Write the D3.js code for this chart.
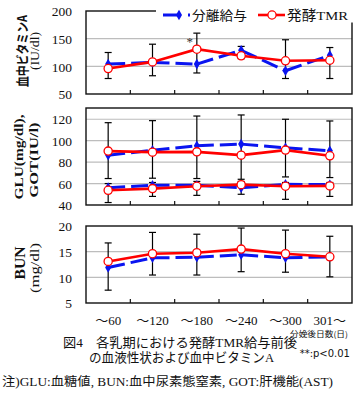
<!DOCTYPE html>
<html><head><meta charset="utf-8">
<script src="https://cdn.jsdelivr.net/npm/d3@7"></script>
<style>body{margin:0;background:#fff}svg{display:block}</style>
</head><body><div id="chart"></div>
<script>
// ---- data ----
const categories = ["～60","～120","～180","～240","～300","301～"];
const seriesNames = ["分離給与","発酵TMR"];
// Vitamin A (IU/dl)
const vitA_sep = [104,107,104,129,92,120];
const vitA_tmr = [96,108,131,119,110,111];
const vitA_errHi = [125,140,160,136,148,134];
const vitA_errLo = [78,83,88,114,78,78];
const vitA_ticks = [50,100,150,200];
// GLU (mg/dl) and GOT (IU/l)
const glu_sep = [86.5,91,95.3,96.8,93.4,90.6];
const glu_tmr = [90.3,89.3,89.6,86.5,91.2,85.9];
const got_sep = [56.2,58.4,58.4,56,59.3,59];
const got_tmr = [53.7,55.3,57.5,59,57.5,57.8];
const glu_errHi = [116.8,118.7,123,124,120,118.4];
const glu_errLo = [64.7,65,64.7,64,66.2,65.6];
const got_errHi = [60,61,62,62,61,61];
const got_errLo = [42.3,48,49,50,45.3,48];
const gg_ticks = [40,60,80,100,120];
// BUN (mg/dl)
const bun_sep = [11.9,13.8,13.9,14.4,13.8,14.0];
const bun_tmr = [13.1,14.6,14.8,15.5,14.6,14.0];
const bun_errHi = [16.7,18.75,18.4,19.6,19.2,18.0];
const bun_errLo = [7.5,10.45,10.45,11.1,11.0,10.1];
const bun_ticks = [5,10,15,20];

// ---- layout ----
const W = 358, H = 395;
const X0 = 86, X1 = 352;
const serif = "'Liberation Serif','Noto Sans CJK JP',serif";
const jp = "'Liberation Serif','Noto Sans CJK JP',sans-serif";
const BLUE = "#0a14f0", RED = "#ff0000";

const svg = d3.select("#chart").append("svg").attr("width", W).attr("height", H);
svg.append("rect").attr("width", W).attr("height", H).attr("fill", "#fff");

const x = d3.scaleBand().domain(categories).range([X0, X1]).padding(0);
const cx = c => x(c) + x.bandwidth() / 2;

const panels = [
  {top: 11, bottom: 94, domain: [50,200], ticks: vitA_ticks,
   lines: [[vitA_sep, vitA_tmr]], errs: [[vitA_errLo, vitA_errHi]]},
  {top: 108, bottom: 205, domain: [40,130.5], ticks: gg_ticks,
   lines: [[glu_sep, glu_tmr],[got_sep, got_tmr]], errs: [[glu_errLo, glu_errHi],[got_errLo, got_errHi]]},
  {top: 226, bottom: 303, domain: [5,20], ticks: bun_ticks,
   lines: [[bun_sep, bun_tmr]], errs: [[bun_errLo, bun_errHi]]}
];

panels.forEach((p, pi) => {
  const y = d3.scaleLinear().domain(p.domain).range([p.bottom, p.top]);
  p.y = y;
  const g = svg.append("g");
  // grid
  g.selectAll(".grid").data(p.ticks.filter(t => y(t) > p.top + 2 && y(t) < p.bottom - 2))
    .join("line").attr("x1", X0).attr("x2", X1)
    .attr("y1", d => y(d)).attr("y2", d => y(d))
    .attr("stroke", "#bdbdbd").attr("stroke-width", 1.2);
  // tick labels
  const ax = d3.axisLeft(y).tickValues(p.ticks).tickSize(0).tickPadding(0);
  const ag = g.append("g").attr("transform", `translate(72,0)`).call(ax);
  ag.select(".domain").remove();
  ag.selectAll("text").attr("font-family", serif).attr("font-size", 13.5)
    .attr("fill", "#111").attr("x", 0).attr("dy", "0.35em");
  // bottom ticks at category boundaries
  g.selectAll(".bt").data(categories.slice(1)).join("line")
    .attr("x1", d => x(d)).attr("x2", d => x(d))
    .attr("y1", p.bottom).attr("y2", p.bottom - 4)
    .attr("stroke", "#111").attr("stroke-width", 1.2);
  // error bars
  p.errs.forEach(([lo, hi]) => {
    categories.forEach((c, i) => {
      const xx = cx(c);
      g.append("line").attr("x1", xx).attr("x2", xx).attr("y1", y(lo[i])).attr("y2", y(hi[i]))
        .attr("stroke", "#000").attr("stroke-width", 1.2);
      [lo[i], hi[i]].forEach(v => g.append("line").attr("x1", xx - 3.5).attr("x2", xx + 3.5)
        .attr("y1", y(v)).attr("y2", y(v)).attr("stroke", "#000").attr("stroke-width", 1.2));
    });
  });
  // lines
  p.lines.forEach(([sep, tmr]) => {
    for (let i = 0; i < categories.length - 1; i++) {
      g.append("line").attr("x1", cx(categories[i])).attr("y1", y(sep[i]))
        .attr("x2", cx(categories[i+1])).attr("y2", y(sep[i+1]))
        .attr("stroke", BLUE).attr("stroke-width", 3).attr("stroke-dasharray", "17,6");
    }
    g.selectAll(null).data(sep).join("path")
      .attr("d", d3.symbol(d3.symbolDiamond, 32))
      .attr("transform", (d, i) => `translate(${cx(categories[i])},${y(d)})`)
      .attr("fill", BLUE);
    const line = d3.line().x((d, i) => cx(categories[i])).y(d => y(d));
    g.append("path").datum(tmr).attr("d", line).attr("fill", "none")
      .attr("stroke", RED).attr("stroke-width", 2.6);
  });
  p.lines.forEach(([sep, tmr]) => {
    g.selectAll(null).data(tmr).join("circle")
      .attr("cx", (d, i) => cx(categories[i])).attr("cy", d => y(d)).attr("r", 4.1)
      .attr("fill", "#fff").attr("stroke", RED).attr("stroke-width", 1.3);
  });
  // frame
  g.append("rect").attr("x", X0).attr("y", p.top).attr("width", X1 - X0).attr("height", p.bottom - p.top)
    .attr("fill", "none").attr("stroke", "#111").attr("stroke-width", 1.4);
});

// significance mark
svg.append("text").attr("x", cx(categories[2]) - 7).attr("y", panels[0].y(vitA_tmr[2]) - 3)
  .attr("font-family", serif).attr("font-size", 13).attr("fill", "#333").attr("text-anchor", "middle").text("*");

// legend (covers the frame top)
const lg = svg.append("g");
lg.append("rect").attr("x", 156).attr("y", 0).attr("width", 202).attr("height", 22.5).attr("fill", "#fff");
lg.append("line").attr("x1", 163).attr("x2", 180).attr("y1", 15).attr("y2", 15)
  .attr("stroke", BLUE).attr("stroke-width", 3);
lg.append("path").attr("d", d3.symbol(d3.symbolDiamond, 32)).attr("transform", "translate(179,15)").attr("fill", BLUE);
lg.append("line").attr("x1", 188).attr("x2", 190).attr("y1", 15).attr("y2", 15)
  .attr("stroke", BLUE).attr("stroke-width", 3);
lg.append("text").attr("x", 192).attr("y", 15).attr("dy", "0.35em").attr("font-family", jp)
  .attr("font-size", 13).attr("fill", "#111").attr("textLength", 55)
  .attr("lengthAdjust", "spacingAndGlyphs").text(seriesNames[0]);
lg.append("line").attr("x1", 258).attr("x2", 285).attr("y1", 15).attr("y2", 15)
  .attr("stroke", RED).attr("stroke-width", 2.6);
lg.append("circle").attr("cx", 272).attr("cy", 15).attr("r", 4.1).attr("fill", "#fff")
  .attr("stroke", RED).attr("stroke-width", 1.3);
lg.append("text").attr("x", 287).attr("y", 15).attr("dy", "0.35em").attr("font-family", jp)
  .attr("font-size", 13.5).attr("fill", "#111").attr("textLength", 61)
  .attr("lengthAdjust", "spacingAndGlyphs").text(seriesNames[1]);

// y-axis titles
function vtext(xp, yp, txt, size, weight, len, fam) {
  const t = svg.append("text").attr("transform", `translate(${xp},${yp}) rotate(-90)`)
    .attr("text-anchor", "middle").attr("dy", "0.35em")
    .attr("font-family", fam).attr("font-size", size).attr("font-weight", weight)
    .attr("fill", "#111").text(txt);
  if (len) t.attr("textLength", len).attr("lengthAdjust", "spacingAndGlyphs");
}
vtext(22, 51, "血中ビタミンA", 13, "bold", 72, "'Noto Sans CJK JP',sans-serif");
vtext(35, 51, "(IU/dl)", 12.5, "normal", 38, serif);
vtext(18, 157, "GLU(mg/dl),", 13, "bold", 85, serif);
vtext(33, 160, "GOT(IU/l)", 13, "bold", 75, serif);
vtext(20, 263, "BUN", 14, "bold", 33, serif);
vtext(35, 268, "(mg/dl)", 12.5, "normal", 50, serif);

// x category labels
svg.selectAll(".xl").data(categories).join("text")
  .attr("x", d => cx(d)).attr("y", 320).attr("dy", "0.35em").attr("text-anchor", "middle")
  .attr("font-family", jp).attr("font-size", 13).attr("fill", "#111").text(d => d);
svg.append("text").attr("x", 348).attr("y", 334.5).attr("dy", "0.35em").attr("text-anchor", "end")
  .attr("font-family", "'Noto Sans CJK JP',sans-serif").attr("font-size", 8).attr("fill", "#111")
  .attr("textLength", 58).attr("lengthAdjust", "spacingAndGlyphs").text("分娩後日数(日)");

// caption
svg.append("text").attr("x", 63).attr("y", 342).attr("dy", "0.35em")
  .attr("font-family", jp).attr("font-size", 13).attr("fill", "#111")
  .attr("textLength", 234).attr("lengthAdjust", "spacingAndGlyphs").text("図4　各乳期における発酵TMR給与前後");
svg.append("text").attr("x", 89).attr("y", 357).attr("dy", "0.35em")
  .attr("font-family", jp).attr("font-size", 13).attr("fill", "#111")
  .attr("textLength", 185).attr("lengthAdjust", "spacingAndGlyphs").text("の血液性状および血中ビタミンA");
svg.append("text").attr("x", 350).attr("y", 353).attr("dy", "0.35em").attr("text-anchor", "end")
  .attr("font-family", "'DejaVu Sans',sans-serif").attr("font-size", 10).attr("fill", "#111")
  .text("**:p<0.01");
svg.append("text").attr("x", 2).attr("y", 382).attr("dy", "0.35em")
  .attr("font-family", jp).attr("font-size", 12).attr("fill", "#111")
  .attr("textLength", 331).attr("lengthAdjust", "spacingAndGlyphs")
  .text("注)GLU:血糖値, BUN:血中尿素態窒素, GOT:肝機能(AST)");
</script></body></html>
